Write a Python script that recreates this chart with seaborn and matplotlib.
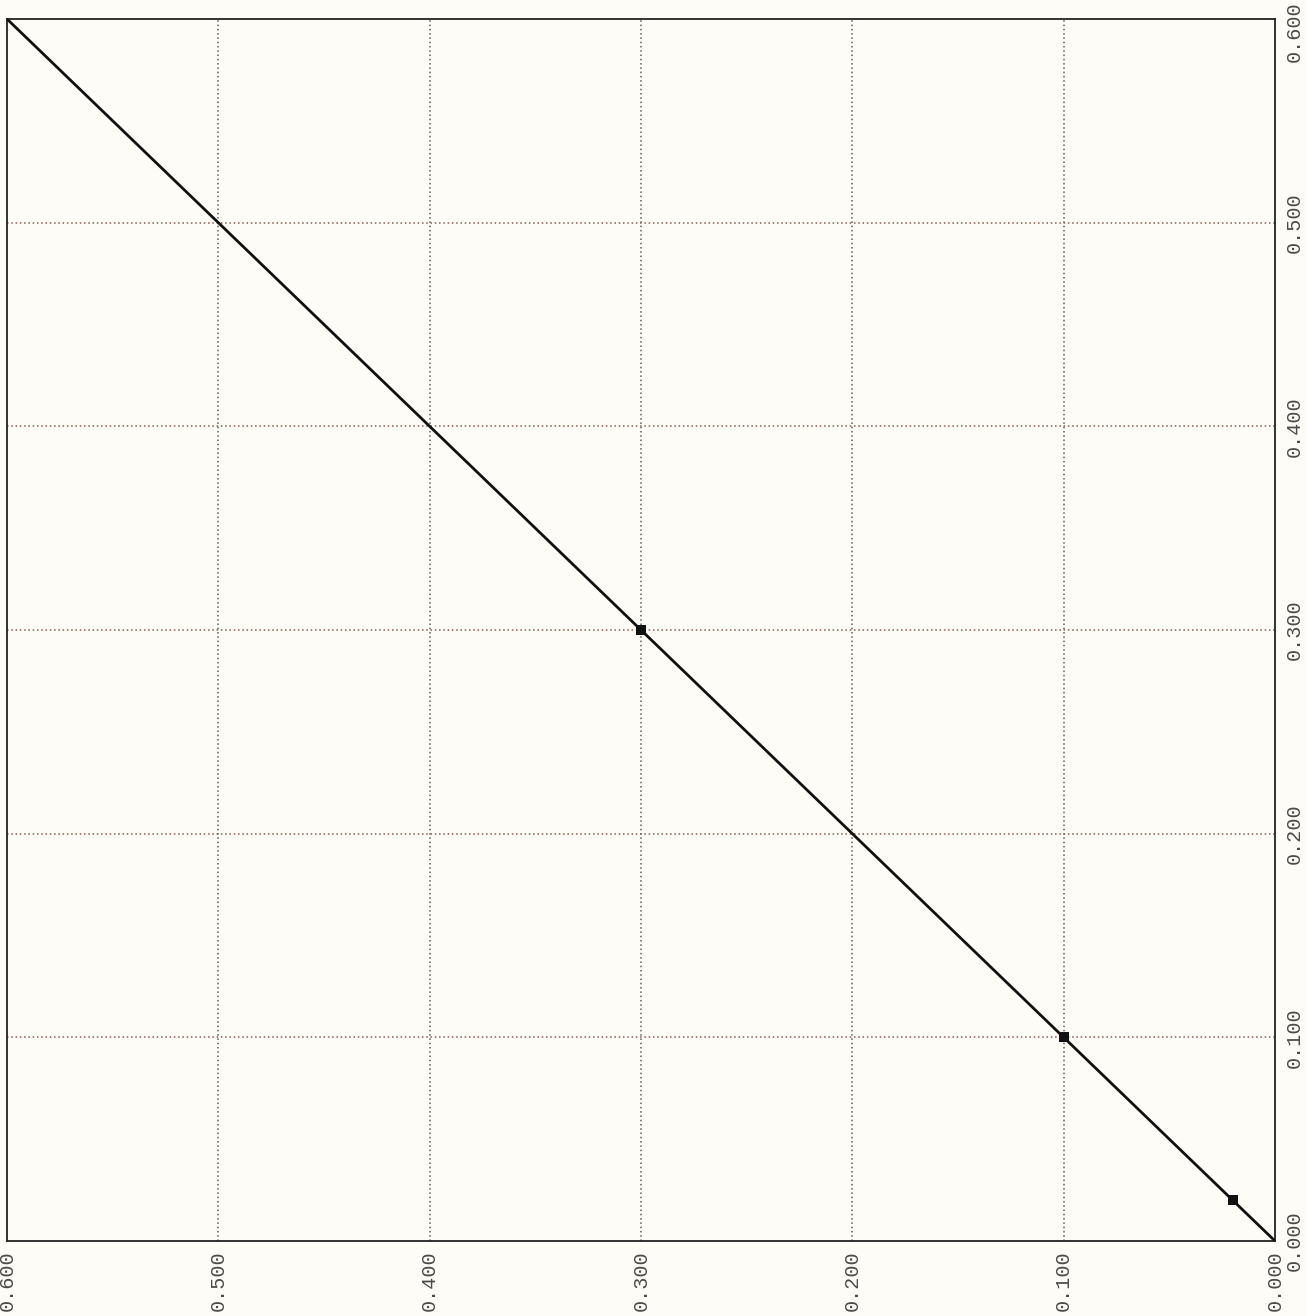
import matplotlib
matplotlib.use("Agg")
import matplotlib.pyplot as plt
import matplotlib.transforms as mtransforms
import seaborn as sns
import pandas as pd

# ---- data ----
line_x = [0.600, 0.300, 0.100, 0.020, 0.000]
line_y = [0.600, 0.300, 0.100, 0.020, 0.000]
marker_x = [0.300, 0.100, 0.020]
marker_y = [0.300, 0.100, 0.020]
tick_values = [0.0, 0.1, 0.2, 0.3, 0.4, 0.5, 0.6]
tick_labels = ["0.000", "0.100", "0.200", "0.300", "0.400", "0.500", "0.600"]

sns.set_theme(style="white")
plt.rcParams['font.family'] = ['Liberation Mono', 'DejaVu Sans Mono']

PAPER = "#fdfcf6"

fig = plt.figure(figsize=(13.07, 13.16), dpi=100, facecolor=PAPER)
ax = fig.add_axes([7 / 1307, 1 - 1241 / 1316, (1275 - 7) / 1307, (1241 - 19) / 1316])
ax.set_facecolor(PAPER)

line_df = pd.DataFrame({"x": line_x, "y": line_y})
mark_df = pd.DataFrame({"x": marker_x, "y": marker_y})

sns.lineplot(data=line_df, x="x", y="y", ax=ax, color="#111111", linewidth=2.0,
             sort=False, estimator=None, zorder=3)
sns.scatterplot(data=mark_df, x="x", y="y", ax=ax, marker="s", s=42,
                color="#111111", edgecolor="#111111", linewidth=0, zorder=4)

ax.set_xlim(0.6, 0.0)
ax.set_ylim(0.0, 0.6)

# grid: vertical grey dotted, horizontal reddish dotted
for v in tick_values[1:-1]:
    ax.axvline(v, color="#5e5e5e", linestyle=(0, (1, 1.8)), linewidth=1.1, zorder=1)
    ax.axhline(v, color="#8e5a52", linestyle=(0, (1, 1.8)), linewidth=1.1, zorder=1)

ax.set_xticks(tick_values)
ax.set_xticklabels(tick_labels, rotation=90, fontsize=14.5, color="#4a4a4a")
ax.yaxis.tick_right()
ax.set_yticks(tick_values)
ax.set_yticklabels(tick_labels, rotation=90, va="center", fontsize=14.5, color="#4a4a4a")
ax.tick_params(axis="both", length=0, pad=7)
ax.set_xlabel("")
ax.set_ylabel("")

# the top right label sits a bit lower in the scan, inside the page
top_lbl = ax.get_yticklabels()[-1]
top_lbl.set_transform(top_lbl.get_transform() +
                      mtransforms.ScaledTranslation(0, -13 / 100, fig.dpi_scale_trans))

for s in ax.spines.values():
    s.set_visible(True)
    s.set_color("#222222")
    s.set_linewidth(1.3)

fig.savefig("out.png", dpi=100, facecolor=PAPER)
